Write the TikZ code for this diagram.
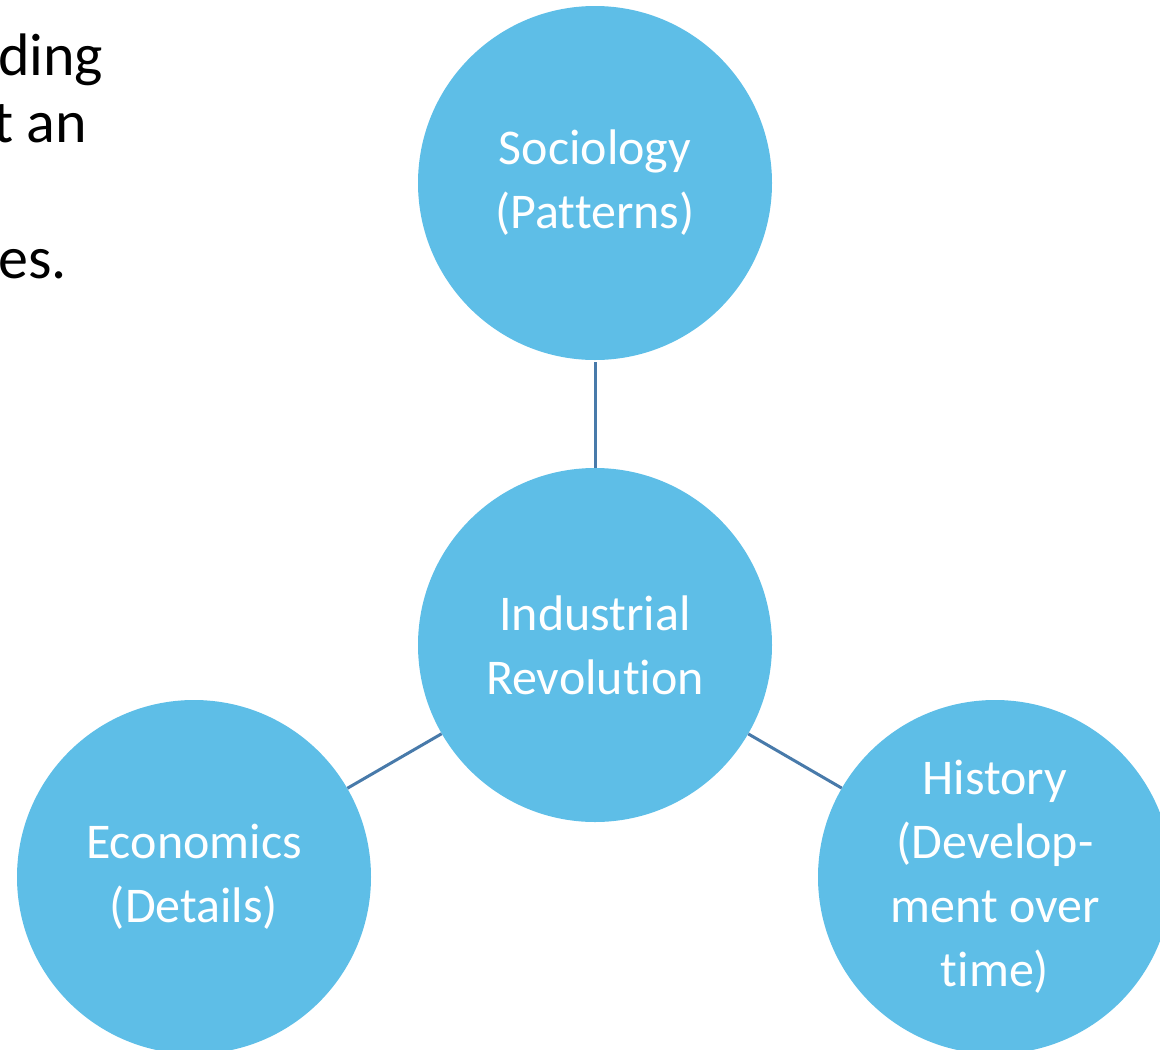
\documentclass[tikz,border=0pt]{standalone}
\usepackage{fontspec}
\setmainfont[Ligatures=NoCommon]{Carlito}
\usepackage{xcolor}
\usetikzlibrary{positioning}

\definecolor{topicblue}{RGB}{94,190,231}
\definecolor{linkblue}{RGB}{72,122,170}

\begin{document}
\begin{tikzpicture}[
    x=1pt, y=-1pt,
    topic/.style={circle, fill=topicblue, minimum size=354pt, inner sep=0pt, align=center,
        text=white, font=\fontsize{50}{64}\selectfont,
        execute at begin node={\rule{0pt}{46pt}}},
    link/.style={draw=linkblue, line width=3pt},
    slide/.style={anchor=base west, inner sep=0pt, font=\fontsize{60}{68}\selectfont}
]

\clip (0,0) rectangle (1160,1050);
\useasboundingbox (0,0) rectangle (1160,1050);

% Slide text
\node[slide] (l1) at (-2,75) {ding};
\node[slide] (l2) at (-7,142) {t an};
\node[slide] (l3) at (-2,278) {es.};

% Topics
\node[topic] (soc) at (595,183) {Sociology\\(Patterns)};
\node[topic] (ind) at (595,645) {Industrial\\Revolution};
\node[topic] (eco) at (194,877) {Economics\\(Details)};
\node[topic] (his) at (995,877) {History\\(Develop-\\ment over\\time)};

% Links
\draw[link, shorten <=2pt] (soc) -- (ind);
\draw[link] (eco) -- (ind);
\draw[link] (his) -- (ind);

\end{tikzpicture}
\end{document}
